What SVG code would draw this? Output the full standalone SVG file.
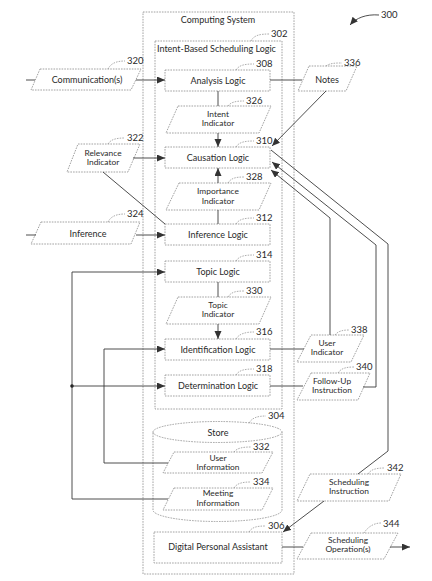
<svg xmlns="http://www.w3.org/2000/svg" width="432" height="581" viewBox="0 0 432 581">
<style>
  .shape { fill: none; stroke: #8a8a8a; stroke-width: 0.8; stroke-dasharray: 1.6 1.1; }
  .lead { fill: none; stroke: #8a8a8a; stroke-width: 0.7; stroke-dasharray: 1.6 1.1; }
  .conn { fill: none; stroke: #3a3a3a; stroke-width: 0.9; }
  text { font-family: Lato, "Open Sans", "Liberation Sans", sans-serif; font-size: 9px; fill: #2a2a2a; }
  .c { text-anchor: middle; }
  .t2 { font-size: 8.4px; }
  .num { font-size: 9.5px; }
</style>
<defs>
  <marker id="ah" markerUnits="userSpaceOnUse" markerWidth="9" markerHeight="8" refX="8" refY="3.5" orient="auto">
    <path d="M0,0 L8,3.5 L0,7 z" fill="#333"/>
  </marker>
</defs>
<rect width="432" height="581" fill="#fff"/>

<g id="computing-system">
  <rect class="shape" x="143" y="12" width="151" height="562"/>
  <text class="c" x="218" y="23">Computing System</text>
</g>
<g id="ref-300">
  <path class="conn" d="M379,15 C366,14 356,18 350,25" marker-end="url(#ah)"/>
  <text class="num" x="381" y="18">300</text>
</g>
<g id="intent-based-scheduling-logic">
  <rect class="shape" x="155" y="41" width="127" height="368"/>
  <text x="157" y="52">Intent-Based Scheduling Logic</text>
  <path class="lead" d="M251,41 C254,35 260,34 270,34"/>
  <text class="num" x="271" y="37">302</text>
</g>
<g id="analysis-logic">
  <rect class="shape" x="165" y="70" width="105" height="21"/>
  <text class="c" x="218" y="84">Analysis Logic</text>
  <path class="lead" d="M236,70 C239,65 245,64 254,64"/>
  <text class="num" x="256" y="67">308</text>
</g>
<g id="intent-indicator">
  <polygon class="shape" points="178,106 271,106 259,133 166,133"/>
  <text class="c t2" x="218" y="116.5">Intent</text>
  <text class="c t2" x="218" y="126">Indicator</text>
  <path class="lead" d="M228,106 C231,102 236,101 244,101"/>
  <text class="num" x="246" y="104">326</text>
</g>
<g id="causation-logic">
  <rect class="shape" x="165" y="147" width="105" height="21"/>
  <text class="c" x="218" y="161">Causation Logic</text>
  <path class="lead" d="M236,147 C239,142 245,141 254,141"/>
  <text class="num" x="256" y="144">310</text>
</g>
<g id="importance-indicator">
  <polygon class="shape" points="179,183 271,183 259,210 166,210"/>
  <text class="c t2" x="218" y="194">Importance</text>
  <text class="c t2" x="218" y="203.5">Indicator</text>
  <path class="lead" d="M228,183 C231,178 236,177 244,177"/>
  <text class="num" x="246" y="180">328</text>
</g>
<g id="inference-logic">
  <rect class="shape" x="165" y="224" width="105" height="21"/>
  <text class="c" x="218" y="238">Inference Logic</text>
  <path class="lead" d="M236,224 C239,219 245,218 254,218"/>
  <text class="num" x="256" y="221">312</text>
</g>
<g id="topic-logic">
  <rect class="shape" x="165" y="261" width="105" height="21"/>
  <text class="c" x="218" y="274.5">Topic Logic</text>
  <path class="lead" d="M236,261 C239,256 245,255 254,255"/>
  <text class="num" x="256" y="258">314</text>
</g>
<g id="topic-indicator">
  <polygon class="shape" points="178,297 271,297 259,324 166,324"/>
  <text class="c t2" x="218" y="307.5">Topic</text>
  <text class="c t2" x="218" y="317">Indicator</text>
  <path class="lead" d="M228,297 C231,292 236,291 244,291"/>
  <text class="num" x="246" y="294">330</text>
</g>
<g id="identification-logic">
  <rect class="shape" x="165" y="339" width="105" height="21"/>
  <text class="c" x="218" y="352.5">Identification Logic</text>
  <path class="lead" d="M236,339 C239,334 245,332 254,332"/>
  <text class="num" x="256" y="335">316</text>
</g>
<g id="determination-logic">
  <rect class="shape" x="165" y="375" width="105" height="21"/>
  <text class="c" x="218" y="389">Determination Logic</text>
  <path class="lead" d="M236,375 C239,370 245,369 254,369"/>
  <text class="num" x="256" y="372">318</text>
</g>
<g id="store">
  <path class="shape" d="M153,432 A64.5,10.5 0 0 1 282,432 L282,510 A64.5,11.5 0 0 1 153,510 Z"/>
  <path class="shape" d="M153,432 A64.5,10.5 0 0 0 282,432"/>
  <text class="c" x="218" y="435.5">Store</text>
  <path class="lead" d="M249,423 C252,418 257,416 266,416"/>
  <text class="num" x="268" y="419">304</text>
</g>
<g id="user-information">
  <polygon class="shape" points="174,452 273,452 262,473 163,473"/>
  <text class="c t2" x="218" y="460.5">User</text>
  <text class="c t2" x="218" y="470">Information</text>
  <path class="lead" d="M234,452 C237,448 243,447 251,447"/>
  <text class="num" x="253" y="450">332</text>
</g>
<g id="meeting-information">
  <polygon class="shape" points="174,488 273,488 262,510 163,510"/>
  <text class="c t2" x="218" y="496">Meeting</text>
  <text class="c t2" x="218" y="505.5">Information</text>
  <path class="lead" d="M234,488 C237,483 243,482 251,482"/>
  <text class="num" x="253" y="485">334</text>
</g>
<g id="digital-personal-assistant">
  <rect class="shape" x="154" y="532" width="128" height="31"/>
  <text class="c" x="218" y="550">Digital Personal Assistant</text>
  <path class="lead" d="M249,532 C252,527 257,526 266,526"/>
  <text class="num" x="268" y="529">306</text>
</g>

<g id="communications">
  <polygon class="shape" points="40,69 141,69 131,90 31,90"/>
  <text class="c" x="87" y="82.5">Communication(s)</text>
  <path class="lead" d="M108,69 C111,63 117,61 125,61"/>
  <text class="num" x="127" y="63.5">320</text>
</g>
<g id="relevance-indicator">
  <polygon class="shape" points="78,144 140,144 128,172 67,172"/>
  <text class="c t2" x="103" y="155.5">Relevance</text>
  <text class="c t2" x="103" y="165">Indicator</text>
  <path class="lead" d="M108,144 C111,139 117,138 125,138"/>
  <text class="num" x="127" y="141">322</text>
</g>
<g id="inference">
  <polygon class="shape" points="41,222 140,222 131,244 31,244"/>
  <text class="c" x="88" y="236.5">Inference</text>
  <path class="lead" d="M108,222 C111,216 117,214 125,214"/>
  <text class="num" x="127" y="217">324</text>
</g>
<g id="notes">
  <polygon class="shape" points="309,66 357,66 346,91 298,91"/>
  <text class="c" x="327" y="83">Notes</text>
  <path class="lead" d="M326,66 C330,63 336,63 342,63"/>
  <text class="num" x="344" y="66">336</text>
</g>
<g id="user-indicator">
  <polygon class="shape" points="311,335 364,335 351,362 297,362"/>
  <text class="c t2" x="327" y="345.5">User</text>
  <text class="c t2" x="327" y="355">Indicator</text>
  <path class="lead" d="M335,335 C338,331 343,330 349,330"/>
  <text class="num" x="351" y="333">338</text>
</g>
<g id="follow-up-instruction">
  <polygon class="shape" points="311,373 370,373 358,400 297,400"/>
  <text class="c t2" x="332" y="383.5">Follow-Up</text>
  <text class="c t2" x="332" y="393">Instruction</text>
  <path class="lead" d="M338,373 C341,368 347,367 354,367"/>
  <text class="num" x="356" y="370">340</text>
</g>
<g id="scheduling-instruction">
  <polygon class="shape" points="310,474 401,474 389,501 297,501"/>
  <text class="c t2" x="349" y="484.5">Scheduling</text>
  <text class="c t2" x="349" y="494">Instruction</text>
  <path class="lead" d="M368,474 C371,469 377,468 385,468"/>
  <text class="num" x="387" y="471">342</text>
</g>
<g id="scheduling-operations">
  <polygon class="shape" points="311,533 398,533 384,559 297,559"/>
  <text class="c t2" x="348" y="542.5">Scheduling</text>
  <text class="c t2" x="348" y="552">Operation(s)</text>
  <path class="lead" d="M364,533 C367,528 373,523 381,523"/>
  <text class="num" x="383" y="526.5">344</text>
</g>

<g id="connectors">
  <line class="conn" x1="218" y1="91" x2="218" y2="106"/>
  <line class="conn" x1="218" y1="133" x2="218" y2="147" marker-end="url(#ah)"/>
  <line class="conn" x1="218" y1="183" x2="218" y2="168" marker-end="url(#ah)"/>
  <line class="conn" x1="218" y1="224" x2="218" y2="210"/>
  <line class="conn" x1="218" y1="282" x2="218" y2="297"/>
  <line class="conn" x1="218" y1="324" x2="218" y2="339" marker-end="url(#ah)"/>
  <line class="conn" x1="26" y1="80" x2="35" y2="80"/>
  <line class="conn" x1="136" y1="80" x2="165" y2="80" marker-end="url(#ah)"/>
  <line class="conn" x1="133" y1="158" x2="165" y2="158" marker-end="url(#ah)"/>
  <line class="conn" x1="103" y1="172" x2="165" y2="224"/>
  <line class="conn" x1="26" y1="235" x2="36" y2="235"/>
  <line class="conn" x1="136" y1="235" x2="165" y2="235" marker-end="url(#ah)"/>
  <polyline class="conn" points="168,499 72,499 72,272 165,272" marker-end="url(#ah)"/>
  <circle cx="72" cy="386" r="1.8" fill="#222"/>
  <line class="conn" x1="72" y1="386" x2="165" y2="386" marker-end="url(#ah)"/>
  <polyline class="conn" points="168,463 104,463 104,349 165,349" marker-end="url(#ah)"/>
  <line class="conn" x1="270" y1="80" x2="302" y2="80"/>
  <line class="conn" x1="326" y1="91" x2="272" y2="146" marker-end="url(#ah)"/>
  <polyline class="conn" points="358,474 388,451 388,244 271,150"/>
  <polyline class="conn" points="363,387 376,387 376,245 272,162" marker-end="url(#ah)"/>
  <polyline class="conn" points="330,335 330,218 271,170" marker-end="url(#ah)"/>
  <line class="conn" x1="270" y1="349" x2="304" y2="349"/>
  <line class="conn" x1="270" y1="386" x2="303" y2="386"/>
  <line class="conn" x1="324" y1="501" x2="283" y2="532" marker-end="url(#ah)"/>
  <line class="conn" x1="282" y1="547" x2="303" y2="547"/>
  <line class="conn" x1="390" y1="547" x2="410" y2="547" marker-end="url(#ah)"/>
</g>
</svg>
